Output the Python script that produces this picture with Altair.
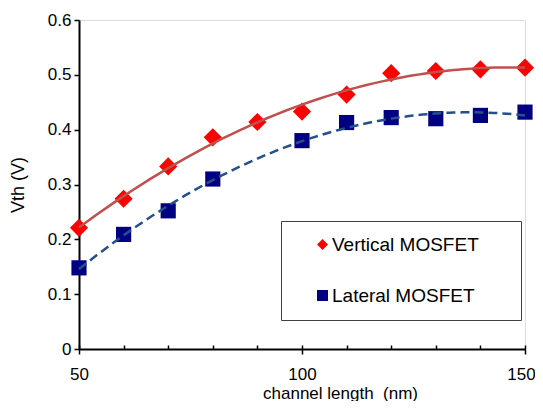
import altair as alt
import pandas as pd

# ---- data ----
series_names = ["Vertical MOSFET", "Lateral MOSFET"]

length_vertical = [50, 60, 70, 80, 90, 100, 110, 120, 130, 140, 150]
vth_vertical = [0.221, 0.274, 0.333, 0.386, 0.414, 0.433, 0.464, 0.503, 0.507, 0.510, 0.513]

length_lateral = [50, 60, 70, 80, 100, 110, 120, 130, 140, 150]
vth_lateral = [0.148, 0.209, 0.252, 0.310, 0.380, 0.413, 0.422, 0.420, 0.426, 0.432]

x_major_ticks = [50, 100, 150]
x_minor_ticks = [50, 60, 70, 80, 90, 100, 110, 120, 130, 140, 150]
y_ticks = [0, 0.1, 0.2, 0.3, 0.4, 0.5, 0.6]

df_v = pd.DataFrame({"length": length_vertical, "vth": vth_vertical, "series": series_names[0]})
df_l = pd.DataFrame({"length": length_lateral, "vth": vth_lateral, "series": series_names[1]})

FONT = "Liberation Sans"
W, H = 446, 329

x_scale = alt.Scale(domain=[50, 150], nice=False, zero=False)
y_scale = alt.Scale(domain=[0, 0.6], nice=False, zero=True)

x_main_axis = alt.Axis(
    orient="bottom", values=x_major_ticks, tickSize=5, tickWidth=1.5, tickColor="black",
    domainColor="black", domainWidth=2, labelFontSize=17, labelFont=FONT, labelColor="black",
    labelBaseline="alphabetic", labelPadding=25, labelFlush=False, labelOverlap=False,
    labelOffset={"condition": {"test": "datum.value == 150", "value": -4}, "value": 0},
    grid=False, title="channel length\u00a0 (nm)", titleFont=FONT, titleFontSize=17,
    titleFontWeight="normal", titleColor="black", titleX=261, titleY=49,
    titleBaseline="alphabetic", titleAlign="center",
)
x_minor_axis = alt.Axis(
    orient="top", offset=-H, values=x_minor_ticks, tickSize=4, tickWidth=1.5,
    tickColor="black", labels=False, domain=False, grid=False, title=None,
)
y_axis = alt.Axis(
    values=y_ticks, format=".1~f", tickSize=5, tickWidth=1.5, tickColor="black",
    domainColor="black", domainWidth=2, labelFontSize=17, labelFont=FONT, labelColor="black",
    labelPadding=3, grid=False, title="Vth (V)", titleFont=FONT, titleFontSize=18,
    titleFontWeight="normal", titleColor="black", titleX=-56, titleY=H / 2,
    titleAngle=270, titleBaseline="alphabetic", titleAlign="center",
)

legend_def = alt.Legend(
    title=None, orient="none", legendX=202, legendY=201, fillColor="white",
    strokeColor="#404040", padding=14, symbolOffset=18,
    rowPadding=31, labelFontSize=19, labelFont=FONT, labelColor="black",
    labelOffset=0, labelLimit=400, symbolSize=120, symbolStrokeWidth=0,
    labelExpr="datum.label + '\u2800\u2800'",
)

color_enc = alt.Color(
    "series:N",
    scale=alt.Scale(domain=series_names, range=["#FF0000", "#000080"]),
    legend=legend_def,
)
shape_enc = alt.Shape(
    "series:N",
    scale=alt.Scale(domain=series_names, range=["diamond", "square"]),
    legend=legend_def,
)

pts_v = alt.Chart(df_v).mark_point(filled=True, size=330, opacity=1).encode(
    x=alt.X("length:Q", scale=x_scale, axis=x_main_axis),
    y=alt.Y("vth:Q", scale=y_scale, axis=y_axis),
    color=color_enc, shape=shape_enc,
)
pts_l = alt.Chart(df_l).mark_point(filled=True, size=230, opacity=1).encode(
    x=alt.X("length:Q", scale=x_scale, axis=None),
    y=alt.Y("vth:Q", scale=y_scale, axis=y_axis),
    color=color_enc, shape=shape_enc,
)
line_v = alt.Chart(df_v).transform_regression(
    "length", "vth", method="poly", order=2
).mark_line(color="#C0504D", strokeWidth=2.5).encode(
    x=alt.X("length:Q", scale=x_scale, axis=x_minor_axis),
    y=alt.Y("vth:Q", scale=y_scale, axis=y_axis),
)
line_l = alt.Chart(df_l).transform_regression(
    "length", "vth", method="poly", order=2
).mark_line(color="#24508C", strokeWidth=2.5, strokeDash=[9, 5]).encode(
    x=alt.X("length:Q", scale=x_scale, axis=None),
    y=alt.Y("vth:Q", scale=y_scale, axis=y_axis),
)

chart = alt.layer(pts_v, pts_l, line_v, line_l).resolve_axis(x="independent").properties(
    width=W, height=H, autosize="none",
    padding={"left": 71, "top": 12, "right": 10, "bottom": 52},
).configure_view(stroke=None).configure(font=FONT)

chart.save("out.html", embed_options={"renderer": "svg", "actions": False})
